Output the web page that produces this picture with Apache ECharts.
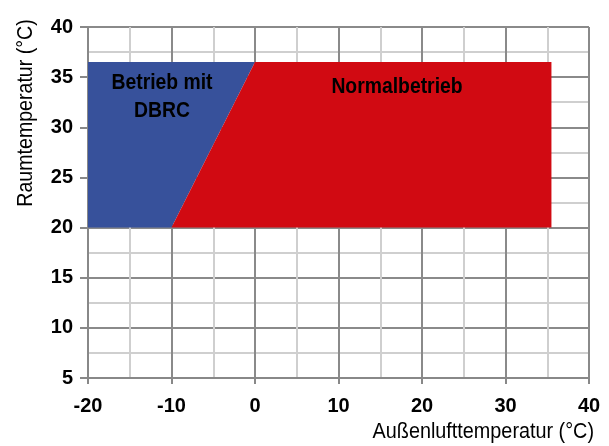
<!DOCTYPE html>
<html><head><meta charset="utf-8">
<script src="https://cdn.jsdelivr.net/npm/echarts@6/dist/echarts.min.js"></script>
<style>html,body{margin:0;padding:0;background:#fff}#c{width:609px;height:446px}</style>
</head><body><div id="c"></div>
<script>
const xTicks = [-20, -10, 0, 10, 20, 30, 40];
const yTicks = [5, 10, 15, 20, 25, 30, 35, 40];
const dbrcArea = [[-20, 20], [-20, 36.5], [0, 36.5], [-10, 20]];
const normalArea = [[-10, 20], [0, 36.5], [35.5, 36.5], [35.5, 20]];
const areaNames = ['Betrieb mit\nDBRC', 'Normalbetrieb'];
const axisNames = ['Außenlufttemperatur (°C)', 'Raumtemperatur (°C)'];

const FONT = '"Liberation Sans", Arial, sans-serif';
const chart = echarts.init(document.getElementById('c'));

function polySeries(name, pts, color) {
  return {
    type: 'custom', name: name,
    data: [0],
    renderItem: function (params, api) {
      return {
        type: 'polygon',
        shape: { points: pts.map(p => api.coord(p)) },
        style: { fill: color }
      };
    },
    silent: true
  };
}

chart.setOption({
  animation: false,
  grid: { left: 88, right: 20, top: 27, bottom: 68 },
  xAxis: {
    type: 'value', min: xTicks[0], max: xTicks[xTicks.length - 1], interval: 10,
    axisLine: { show: true, onZero: false, lineStyle: { color: '#888', width: 2 } },
    axisTick: { show: true, length: 6, lineStyle: { color: '#888', width: 2 } },
    axisLabel: { color: '#000', fontFamily: FONT, fontWeight: 'bold', fontSize: 20, margin: 18 },
    splitLine: { show: true, lineStyle: { color: '#8a8a8a', width: 2 } },
    minorTick: { show: false, splitNumber: 2 },
    minorSplitLine: { show: true, lineStyle: { color: '#cfcfcf', width: 2 } }
  },
  yAxis: {
    type: 'value', min: yTicks[0], max: yTicks[yTicks.length - 1], interval: 5,
    axisLine: { show: true, onZero: false, lineStyle: { color: '#888', width: 2 } },
    axisTick: { show: true, length: 8, lineStyle: { color: '#888', width: 2 } },
    axisLabel: { color: '#000', fontFamily: FONT, fontWeight: 'bold', fontSize: 20, margin: 15, padding: [0, 0, 4, 0] },
    splitLine: { show: true, lineStyle: { color: '#8a8a8a', width: 2 } },
    minorTick: { show: false, splitNumber: 2 },
    minorSplitLine: { show: true, lineStyle: { color: '#cfcfcf', width: 2 } }
  },
  series: [
    polySeries('DBRC', dbrcArea, '#37519b'),
    polySeries('Normal', normalArea, '#d10a12')
  ],
  graphic: [
    { type: 'text', z: 100, x: 162, y: 97, scaleX: 0.88, style: { text: areaNames[0], font: 'bold 22px ' + FONT, fill: '#000', align: 'center', verticalAlign: 'middle', lineHeight: 28 } },
    { type: 'text', z: 100, x: 397, y: 87, scaleX: 0.88, style: { text: areaNames[1], font: 'bold 22px ' + FONT, fill: '#000', align: 'center', verticalAlign: 'middle' } },
    { type: 'text', z: 100, x: 594, y: 432, scaleX: 0.9, style: { text: axisNames[0], font: '22px ' + FONT, fill: '#000', align: 'right', verticalAlign: 'middle' } },
    { type: 'text', z: 100, x: 26, y: 113, rotation: Math.PI / 2, scaleX: 0.89, style: { text: axisNames[1], font: '22px ' + FONT, fill: '#000', align: 'center', verticalAlign: 'middle' } }
  ]
});
</script></body></html>
